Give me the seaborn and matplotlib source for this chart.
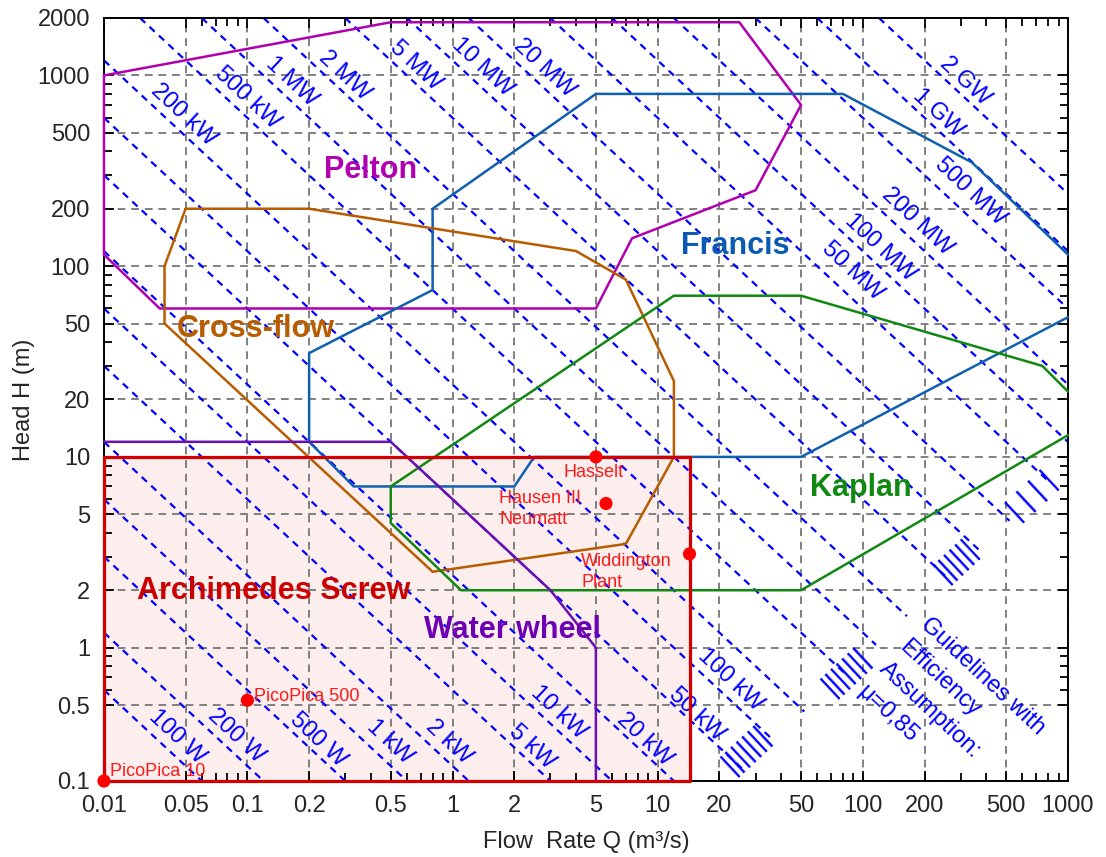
import numpy as np
import matplotlib
matplotlib.use("Agg")
import matplotlib.pyplot as plt
import seaborn as sns
from matplotlib.ticker import FixedLocator, NullFormatter

# ---------------- data ----------------
x_ticks = [0.01, 0.05, 0.1, 0.2, 0.5, 1, 2, 5, 10, 20, 50, 100, 200, 500, 1000]
y_ticks = [0.1, 0.5, 1, 2, 5, 10, 20, 50, 100, 200, 500, 1000, 2000]

# guideline powers (kW) for P = rho*g*Q*H*eta
efficiency = 0.85
powers_kw = [0.1, 0.2, 0.5, 1, 2, 5, 10, 20, 50, 100, 200, 500,
             1e3, 2e3, 5e3, 1e4, 2e4, 5e4, 1e5, 2e5, 5e5, 1e6, 2e6]
power_names = ['100 W', '200 W', '500 W', '1 kW', '2 kW', '5 kW', '10 kW', '20 kW',
               '50 kW', '100 kW', '200 kW', '500 kW', '1 MW', '2 MW', '5 MW', '10 MW',
               '20 MW', '50 MW', '100 MW', '200 MW', '500 MW', '1 GW', '2 GW']
# guidelines stop where H/Q drops to this ratio
end_ratio = 10 ** -2.05

pelton_q = [0.01, 0.5, 25, 50, 30, 7.5, 5, 0.03, 0.01, 0.01]
pelton_h = [1000, 1900, 1900, 700, 250, 140, 60, 60, 115, 1000]
francis_q = [1000, 50, 2.5, 2, 0.33, 0.2, 0.2, 0.8, 0.8, 5, 80, 340, 1000]
francis_h = [54, 10, 10, 7, 7, 12, 35, 75, 200, 800, 800, 350, 115]
crossflow_q = [0.05, 0.2, 4, 7, 12, 12, 7, 0.8, 0.033, 0.033, 0.05]
crossflow_h = [200, 200, 120, 85, 25, 10, 3.5, 2.5, 50, 100, 200]
kaplan_q = [1000, 750, 50, 12, 0.5, 0.5, 1.1, 50, 1000]
kaplan_h = [22, 30, 70, 70, 7, 4.5, 2, 2, 13]
wheel_q = [0.01, 0.5, 3, 5, 5]
wheel_h = [12, 12, 2, 1, 0.1]
screw_q = [0.01, 14.3]
screw_h = [0.1, 10]

plants = ['PicoPica 10', 'PicoPica 500', 'Hasselt', 'Hausen III\nNeumatt', 'Widdington\nPlant']
plant_q = [0.01, 0.1, 5, 5.6, 14.3]
plant_h = [0.1, 0.53, 10, 5.7, 3.1]


# log axis whose first interval (lo..brk) is squeezed, as in the original chart
def squeeze_log(lo, brk, virt_lo):
    a, b, c = np.log10([lo, brk, virt_lo])
    k = (b - c) / (b - a)
    src = [a - 10, a, b, b + 10]
    dst = [c - 10 * k, c, b, b + 10]

    def fwd(v):
        return np.interp(np.log10(np.maximum(v, 1e-12)), src, dst)

    def inv(w):
        return 10 ** np.interp(w, dst, src)
    return fwd, inv


fx, ix = squeeze_log(0.01, 0.05, 0.02)
fy, iy = squeeze_log(0.1, 0.5, 0.2)

sns.set_theme(style="ticks")
plt.rcParams['font.family'] = ['Liberation Sans', 'DejaVu Sans']

fig = plt.figure(figsize=(11.06, 8.57), dpi=100)
ax = fig.add_axes([0.094, 0.0887, 0.8716, 0.8903])
ax.set_xscale('function', functions=(fx, ix))
ax.set_yscale('function', functions=(fy, iy))
ax.set_xlim(0.01, 1000)
ax.set_ylim(0.1, 2000)

# Archimedes screw area
ax.fill_between(screw_q, screw_h[0], screw_h[1], facecolor='#fdeeee', edgecolor='none', zorder=0)

# grid
ax.grid(True, which='major', color='#808080', linestyle=(0, (4, 3)), linewidth=1.4, zorder=1)

# power guidelines, straight lines of constant Q*H
u0, u1 = fx(0.01), fx(1000)
v0, v1 = fy(0.1), fy(2000)
b = -np.log10(end_ratio)
for p in powers_kw:
    c = np.log10(p / (9.81 * efficiency))
    us = max(u0, c - v1)
    ue = min(u1, c - v0, (c + b) / 2)
    uu = np.array([us, ue])
    ax.plot(ix(uu), iy(c - uu), color='#0000ff', lw=1.6, linestyle=(0, (3.2, 2.6)), zorder=2)

# turbine regions
regions = [(pelton_q, pelton_h, '#b000b0'), (francis_q, francis_h, '#1060b0'),
           (crossflow_q, crossflow_h, '#b85c00'), (kaplan_q, kaplan_h, '#118811'),
           (wheel_q, wheel_h, '#6a10b0')]
for q, h, col in regions:
    sns.lineplot(x=q, y=h, sort=False, estimator=None, color=col, lw=1.8, ax=ax,
                 clip_on=False, zorder=4)

ax.plot([screw_q[0], screw_q[1], screw_q[1], screw_q[0], screw_q[0]],
        [screw_h[0], screw_h[0], screw_h[1], screw_h[1], screw_h[0]],
        color='#d40000', lw=2.3, clip_on=False, zorder=5)

sns.scatterplot(x=plant_q, y=plant_h, color='#ff0000', s=90, edgecolor='none',
                ax=ax, clip_on=False, zorder=6)
offsets = [(4, 7), (5, 3), (-2, -11), (-77, -4), (-78, -13)]
aligns = ['left', 'left', 'center', 'left', 'left']
for name, q, h, off, al in zip(plants, plant_q, plant_h, offsets, aligns):
    ax.annotate(name, (q, h), xytext=off, textcoords='offset points', ha=al, va='center',
                color='#ff1a1a', fontsize=13, linespacing=1.3, zorder=7)

# region names
names = ['Pelton', 'Francis', 'Cross-flow', 'Kaplan', 'Archimedes Screw', 'Water wheel']
name_q = [0.4, 24, 0.11, 98, 0.134, 1.96]
name_h = [320, 128, 47, 6.9, 1.97, 1.24]
name_c = ['#b000b0', '#0a5ab4', '#b85c00', '#118811', '#cc0000', '#6e00b4']
for t, q, h, col in zip(names, name_q, name_h, name_c):
    ax.text(q, h, t, color=col, fontsize=22, fontweight='bold', ha='center', va='center', zorder=7)

# guideline labels (axes fraction)
lab_x = [0.076, 0.137, 0.222, 0.296, 0.358, 0.444, 0.472, 0.561, 0.615, 0.650,
         0.082, 0.149, 0.195, 0.250, 0.323, 0.393, 0.457,
         0.776, 0.805, 0.844, 0.899, 0.865, 0.893]
lab_y = [0.058, 0.059, 0.054, 0.051, 0.051, 0.045, 0.090, 0.054, 0.087, 0.132,
         0.873, 0.895, 0.916, 0.925, 0.937, 0.936, 0.934,
         0.668, 0.699, 0.733, 0.772, 0.875, 0.917]
for t, x, y in zip(power_names, lab_x, lab_y):
    ax.text(x, y, t, transform=ax.transAxes, color='#0000ff', fontsize=17, rotation=-43,
            rotation_mode='anchor', ha='center', va='center', zorder=3)

# garbled end-of-line labels of the original, drawn as bar glyphs
bars_txt = ['|||||||', '|||||||', '||||||', '| | | |']
bars_x = [0.666, 0.770, 0.884, 0.963]
bars_y = [0.041, 0.144, 0.290, 0.374]
for t, x, y in zip(bars_txt, bars_x, bars_y):
    ax.text(x, y, t, transform=ax.transAxes, color='#0000ff', fontsize=21, rotation=43,
            rotation_mode='anchor', ha='center', va='center', zorder=3)

ax.text(0.879, 0.093, 'Guidelines with\nEfficiency\nAssumption:\n\u03bc=0,85', transform=ax.transAxes,
        color='#0000ff', fontsize=17, rotation=-43, rotation_mode='anchor', ha='center',
        va='center', multialignment='left', linespacing=1.5, zorder=3)

# axes styling
ax.set_xticks(x_ticks, labels=[f"{t:g}" for t in x_ticks])
ax.set_yticks(y_ticks, labels=[f"{t:g}" for t in y_ticks])
minor_x = [m * 10.0 ** d for d in range(-2, 3) for m in range(2, 10)]
minor_x = [v for v in minor_x if v > 0.05 and not np.isclose(v, x_ticks).any()]
minor_y = [m * 10.0 ** d for d in range(-1, 3) for m in range(2, 10)]
minor_y = [v for v in minor_y if v > 0.5 and not np.isclose(v, y_ticks).any()]
ax.xaxis.set_minor_locator(FixedLocator(minor_x))
ax.yaxis.set_minor_locator(FixedLocator(minor_y))
ax.xaxis.set_minor_formatter(NullFormatter())
ax.yaxis.set_minor_formatter(NullFormatter())
ax.tick_params(which='both', direction='in', top=True, right=True, color='black', width=1.3)
ax.tick_params(which='major', length=7, labelsize=17, pad=10)
ax.tick_params(which='minor', length=5.5)
for s in ax.spines.values():
    s.set_color('black')
    s.set_linewidth(1.4)

ax.set_xlabel('Flow  Rate Q (m\u00b3/s)', fontsize=17, labelpad=10)
ax.set_ylabel('Head H (m)', fontsize=17, labelpad=2)

fig.savefig('out.png', dpi=100)
